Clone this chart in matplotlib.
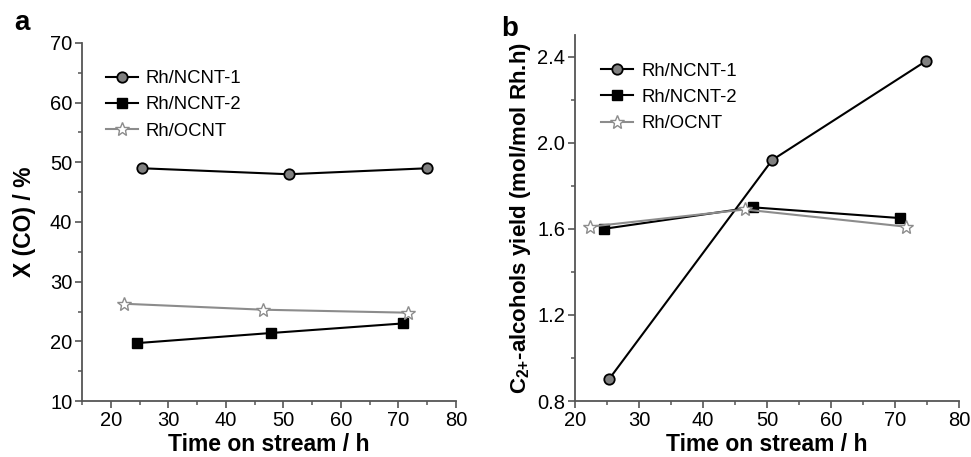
import matplotlib
matplotlib.use("Agg")
import matplotlib.pyplot as plt
from matplotlib.ticker import MultipleLocator

plt.rcParams['font.family'] = ['Liberation Sans', 'DejaVu Sans']
plt.rcParams['mathtext.fontset'] = 'custom'
plt.rcParams['mathtext.rm'] = 'Liberation Sans'
plt.rcParams['mathtext.bf'] = 'Liberation Sans:bold'

series = ["Rh/NCNT-1", "Rh/NCNT-2", "Rh/OCNT"]

# Panel a: CO conversion
a_t1 = [25.5, 50.9, 75.0]
a_y1 = [49.0, 48.0, 49.0]
a_t2 = [24.5, 47.9, 70.8]
a_y2 = [19.7, 21.4, 23.0]
a_t3 = [22.3, 46.5, 71.7]
a_y3 = [26.3, 25.3, 24.8]

# Panel b: C2+ alcohols yield
b_t1 = [25.3, 50.8, 74.8]
b_y1 = [0.90, 1.92, 2.38]
b_t2 = [24.5, 47.8, 70.8]
b_y2 = [1.60, 1.70, 1.65]
b_t3 = [22.3, 46.5, 71.7]
b_y3 = [1.61, 1.69, 1.61]

a_yticks = [10, 20, 30, 40, 50, 60, 70]
b_yticks = [0.8, 1.2, 1.6, 2.0, 2.4]
xticks = [20, 30, 40, 50, 60, 70, 80]

fig = plt.figure(figsize=(9.71, 4.57), dpi=100)
axa = fig.add_axes([0.0845, 0.1225, 0.385, 0.7835])
axb = fig.add_axes([0.592, 0.1225, 0.396, 0.8005])

styles = [
    dict(color='black', marker='o', markersize=7.5, markerfacecolor='#808080', markeredgecolor='black', lw=1.5, mew=1.3),
    dict(color='black', marker='s', markersize=6.5, markerfacecolor='black', markeredgecolor='black', lw=1.5),
    dict(color='#8c8c8c', marker='*', markersize=10, markerfacecolor='white', markeredgecolor='#8c8c8c', lw=1.5, mew=1.0),
]

leg_kw = dict(loc='upper left', frameon=False, fontsize=13.3, handlelength=1.7,
              handletextpad=0.45, labelspacing=0.5, borderaxespad=0)

for ax, data in [(axa, [(a_t1, a_y1), (a_t2, a_y2), (a_t3, a_y3)]),
                 (axb, [(b_t1, b_y1), (b_t2, b_y2), (b_t3, b_y3)])]:
    for (t, y), st, name in zip(data, styles, series):
        ax.plot(t, y, label=name, **st)
    for s in ['top', 'right']:
        ax.spines[s].set_visible(False)
    for s in ['left', 'bottom']:
        ax.spines[s].set_color('#555555')
        ax.spines[s].set_linewidth(1.3)
    ax.tick_params(direction='out', length=5, width=1.2, color='#555555', labelsize=14.5, pad=2)
    ax.tick_params(which='minor', direction='out', length=3, width=1.1, color='#555555')
    ax.set_xticks(xticks)
    ax.xaxis.set_minor_locator(MultipleLocator(5))
    ax.set_xlabel("Time on stream / h", fontsize=16.5, fontweight='bold', labelpad=2)

axa.set_xlim(15, 80)
axa.set_ylim(10, 70)
axa.set_yticks(a_yticks)
axa.yaxis.set_minor_locator(MultipleLocator(5))
axa.set_ylabel("X (CO) / %", fontsize=16.5, fontweight='bold', labelpad=10)
axa.legend(bbox_to_anchor=(0.045, 0.945), **leg_kw)

axb.set_xlim(20, 80)
axb.set_ylim(0.8, 2.5)
axb.set_yticks(b_yticks)
axb.set_yticklabels([f"{v:.1f}" for v in b_yticks])
axb.yaxis.set_minor_locator(MultipleLocator(0.2))
axb.set_ylabel(r"C$_{\mathbf{2{+}}}$-alcohols yield (mol/mol Rh.h)", fontsize=16, fontweight='bold', labelpad=3)
axb.legend(bbox_to_anchor=(0.05, 0.945), **leg_kw)

fig.text(0.015, 0.934, "a", fontsize=20, fontweight='bold')
fig.text(0.516, 0.922, "b", fontsize=20, fontweight='bold')

fig.savefig("out.png", dpi=100)
